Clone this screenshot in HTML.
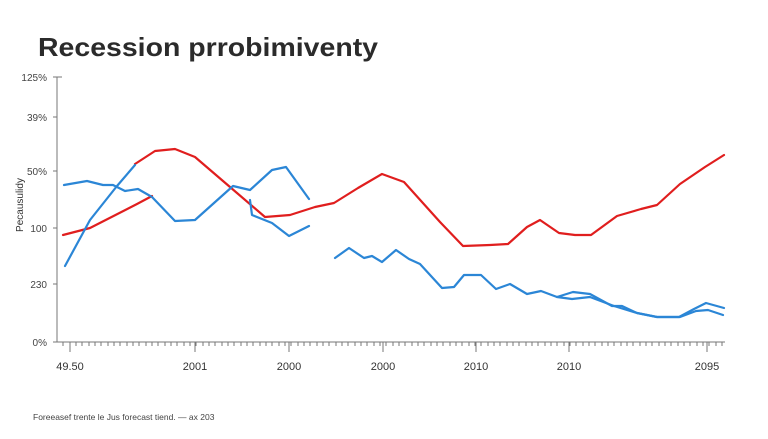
<!DOCTYPE html>
<html><head><meta charset="utf-8"><style>
html,body{margin:0;padding:0;background:#fff;}
svg{display:block;font-family:"Liberation Sans",sans-serif;}
</style></head><body>
<svg width="768" height="439" viewBox="0 0 768 439" xmlns="http://www.w3.org/2000/svg">
<rect width="768" height="439" fill="#fff"/>
<text x="38" y="56" font-size="26" font-weight="bold" fill="#2b2b2b" textLength="340" lengthAdjust="spacingAndGlyphs">Recession prrobimiventy</text>
<g font-size="10" fill="#444" text-anchor="end">
<text x="47" y="81">125%</text>
<text x="47" y="121">39%</text>
<text x="47" y="175">50%</text>
<text x="47" y="232">100</text>
<text x="47" y="288">230</text>
<text x="47" y="346">0%</text>
</g>
<text transform="translate(23,205) rotate(-90)" font-size="10" fill="#333" text-anchor="middle">Pecausulidy</text>
<g stroke="#777" stroke-width="1" fill="none">
<line x1="57" y1="77" x2="57" y2="342"/>
<line x1="53" y1="77" x2="62" y2="77"/>
<line x1="53" y1="117" x2="57" y2="117"/>
<line x1="53" y1="171" x2="57" y2="171"/>
<line x1="53" y1="228" x2="57" y2="228"/>
<line x1="53" y1="284" x2="57" y2="284"/>
<line x1="53" y1="342" x2="725" y2="342"/>
<path d="M70 342V352M195 342V352M289 342V352M383 342V352M476 342V352M569 342V352M707 342V352"/>
<path id="mt" d="M63 342v4M70 342v4M76 342v4M82 342v4M89 342v4M95 342v4M101 342v4M108 342v4M114 342v4M120 342v4M127 342v4M133 342v4M139 342v4M146 342v4M152 342v4M158 342v4M165 342v4M171 342v4M177 342v4M184 342v4M190 342v4M196 342v4M203 342v4M209 342v4M215 342v4M222 342v4M228 342v4M234 342v4M241 342v4M247 342v4M253 342v4M260 342v4M266 342v4M272 342v4M279 342v4M285 342v4M291 342v4M298 342v4M304 342v4M310 342v4M317 342v4M323 342v4M329 342v4M336 342v4M342 342v4M348 342v4M355 342v4M361 342v4M367 342v4M374 342v4M380 342v4M386 342v4M393 342v4M399 342v4M405 342v4M412 342v4M418 342v4M424 342v4M431 342v4M437 342v4M443 342v4M450 342v4M456 342v4M462 342v4M469 342v4M475 342v4M481 342v4M488 342v4M494 342v4M500 342v4M507 342v4M513 342v4M519 342v4M526 342v4M532 342v4M538 342v4M545 342v4M551 342v4M557 342v4M564 342v4M570 342v4M576 342v4M583 342v4M589 342v4M595 342v4M602 342v4M608 342v4M614 342v4M621 342v4M627 342v4M633 342v4M640 342v4M646 342v4M652 342v4M659 342v4M665 342v4M671 342v4M678 342v4M684 342v4M690 342v4M697 342v4M703 342v4M709 342v4M716 342v4M722 342v4"/>
</g>
<g font-size="11" fill="#333" text-anchor="middle">
<text x="70" y="370">49.50</text>
<text x="195" y="370">2001</text>
<text x="289" y="370">2000</text>
<text x="383" y="370">2000</text>
<text x="476" y="370">2010</text>
<text x="569" y="370">2010</text>
<text x="707" y="370">2095</text>
</g>
<text x="33" y="420" font-size="8.5" fill="#444">Foreeasef trente le Jus forecast tiend.  — ax 203</text>
<g fill="none" stroke-width="2.2" stroke-linejoin="round" stroke-linecap="round">
<polyline stroke="#e01e1e" points="63,235 90,228 137,204 152,196"/>
<polyline stroke="#e01e1e" points="135,164 155,151 175,149 195,157 230,187 265,217 290,215 315,207 334,203 358,188 382,174 404,182 440,222 463,246 490,245 508,244 527,227 540,220 559,233 575,235 591,235 617,216 641,209 657,205 680,184 705,167 724,155"/>
<polyline stroke="#2b86d6" points="65,266 90,220 117,186 135,165"/>
<polyline stroke="#2b86d6" points="64,185 87,181 103,185 113,185 125,191 138,189 152,197 175,221 195,220 233,186 250,190 272,170 286,167 309,199"/>
<polyline stroke="#2b86d6" points="250,200 252,215 272,223 289,236 309,226"/>
<polyline stroke="#2b86d6" points="335,258 349,248 364,258 372,256 382,262 396,250 409,259 420,264 442,288 454,287 464,275 481,275 496,289 510,284 527,294 541,291 557,297 573,292 590,294 612,306 622,306 637,313 657,317 679,317 694,309 706,303 724,308"/>
<polyline stroke="#2b86d6" points="557,297 572,299 590,297 614,306 637,313 657,317 680,317 696,311 708,310 723,315"/>
</g>
</svg>
</body></html>
